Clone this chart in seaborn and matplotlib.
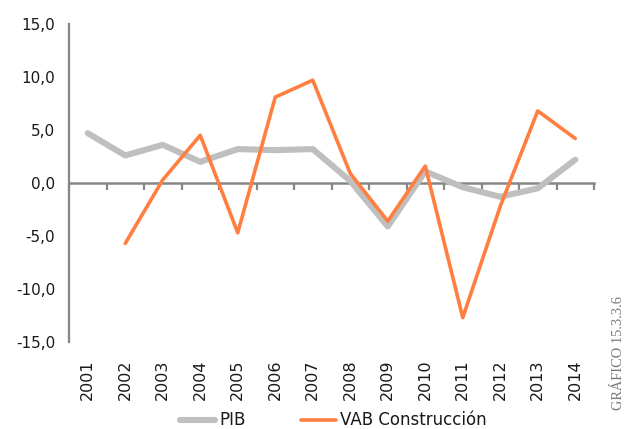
import numpy as np
import pandas as pd
import matplotlib
matplotlib.use("Agg")
import matplotlib.pyplot as plt
from matplotlib.ticker import FixedLocator, FuncFormatter
from matplotlib.lines import Line2D
import seaborn as sns

# Annual growth rates (%)
years = [2001, 2002, 2003, 2004, 2005, 2006, 2007,
         2008, 2009, 2010, 2011, 2012, 2013, 2014]
pib = [4.7, 2.6, 3.6, 2.0, 3.2, 3.1, 3.2,
       0.2, -4.1, 1.1, -0.4, -1.3, -0.5, 2.2]
vab_construccion = [np.nan, -5.7, 0.3, 4.5, -4.7, 8.1, 9.7,
                    0.9, -3.6, 1.6, -12.7, -2.2, 6.8, 4.2]
series_names = ["PIB", "VAB Construcción"]
y_ticks = [-15, -10, -5, 0, 5, 10, 15]

df = pd.concat([
    pd.DataFrame({"year": years, "value": pib, "serie": series_names[0]}),
    pd.DataFrame({"year": years, "value": vab_construccion, "serie": series_names[1]}),
], ignore_index=True)

sns.set_theme(style="white")
plt.rcParams["font.family"] = ["DejaVu Sans"]

fig = plt.figure(figsize=(6.27, 4.29), dpi=100)
ax = fig.add_axes([69 / 627, 1 - 342 / 429, 525 / 627, 318 / 429])

palette = {"PIB": "#BFBFBF", "VAB Construcción": "#FF7F41"}
sns.lineplot(data=df, x="year", y="value", hue="serie", palette=palette,
             ax=ax, legend=False, sort=False)
lines = ax.get_lines()
lines[0].set_linewidth(4.4)
lines[0].set_solid_capstyle("round")
lines[1].set_linewidth(2.6)
lines[1].set_solid_capstyle("round")
lines[1].set_zorder(3)

ax.set_xlim(years[0] - 0.5, years[-1] + 0.5)
ax.set_ylim(y_ticks[0], y_ticks[-1])
ax.set_xlabel("")
ax.set_ylabel("")

# spines: vertical axis on the left, horizontal axis through zero
for side in ["top", "right"]:
    ax.spines[side].set_visible(False)
axis_color = "#868686"
ax.spines["left"].set_color(axis_color)
ax.spines["left"].set_linewidth(1.6)
ax.spines["bottom"].set_position(("data", 0))
ax.spines["bottom"].set_color(axis_color)
ax.spines["bottom"].set_linewidth(1.8)
ax.spines["bottom"].set_zorder(1)

ax.yaxis.set_major_locator(FixedLocator(y_ticks))
ax.yaxis.set_major_formatter(FuncFormatter(lambda v, p: f"{v:.1f}".replace(".", ",")))
ax.tick_params(axis="y", length=0, pad=10, labelsize=11, labelcolor="#1a1a1a")

ax.xaxis.set_major_locator(FixedLocator(years))
ax.xaxis.set_minor_locator(FixedLocator([y - 0.5 for y in years] + [years[-1] + 0.5]))
ax.set_xticklabels([str(y) for y in years], rotation=90, va="top", ha="center")
ax.tick_params(axis="x", which="major", length=0, pad=127, labelsize=11.5,
               labelcolor="#1a1a1a")
ax.tick_params(axis="x", which="minor", bottom=True, direction="out", length=5,
               width=1.6, color=axis_color)
ax.grid(False)

# legend below the axis labels
handles = [Line2D([], [], color=palette["PIB"], lw=4.4, solid_capstyle="round"),
           Line2D([], [], color=palette["VAB Construcción"], lw=2.6, solid_capstyle="round")]
fig.legend(handles, series_names, loc="center", bbox_to_anchor=(0.532, 0.02),
           ncol=2, frameon=False, fontsize=12, handlelength=2.1, handletextpad=0.25,
           columnspacing=3.3, labelcolor="#1a1a1a")

fig.text(0.987, 0.176, "GRÁFICO 15.3.3.6", rotation=90, ha="center", va="center",
         fontsize=10.4, color="#7a7a7a", family=["Liberation Serif", "DejaVu Serif"])

fig.savefig("out.png", dpi=100)
